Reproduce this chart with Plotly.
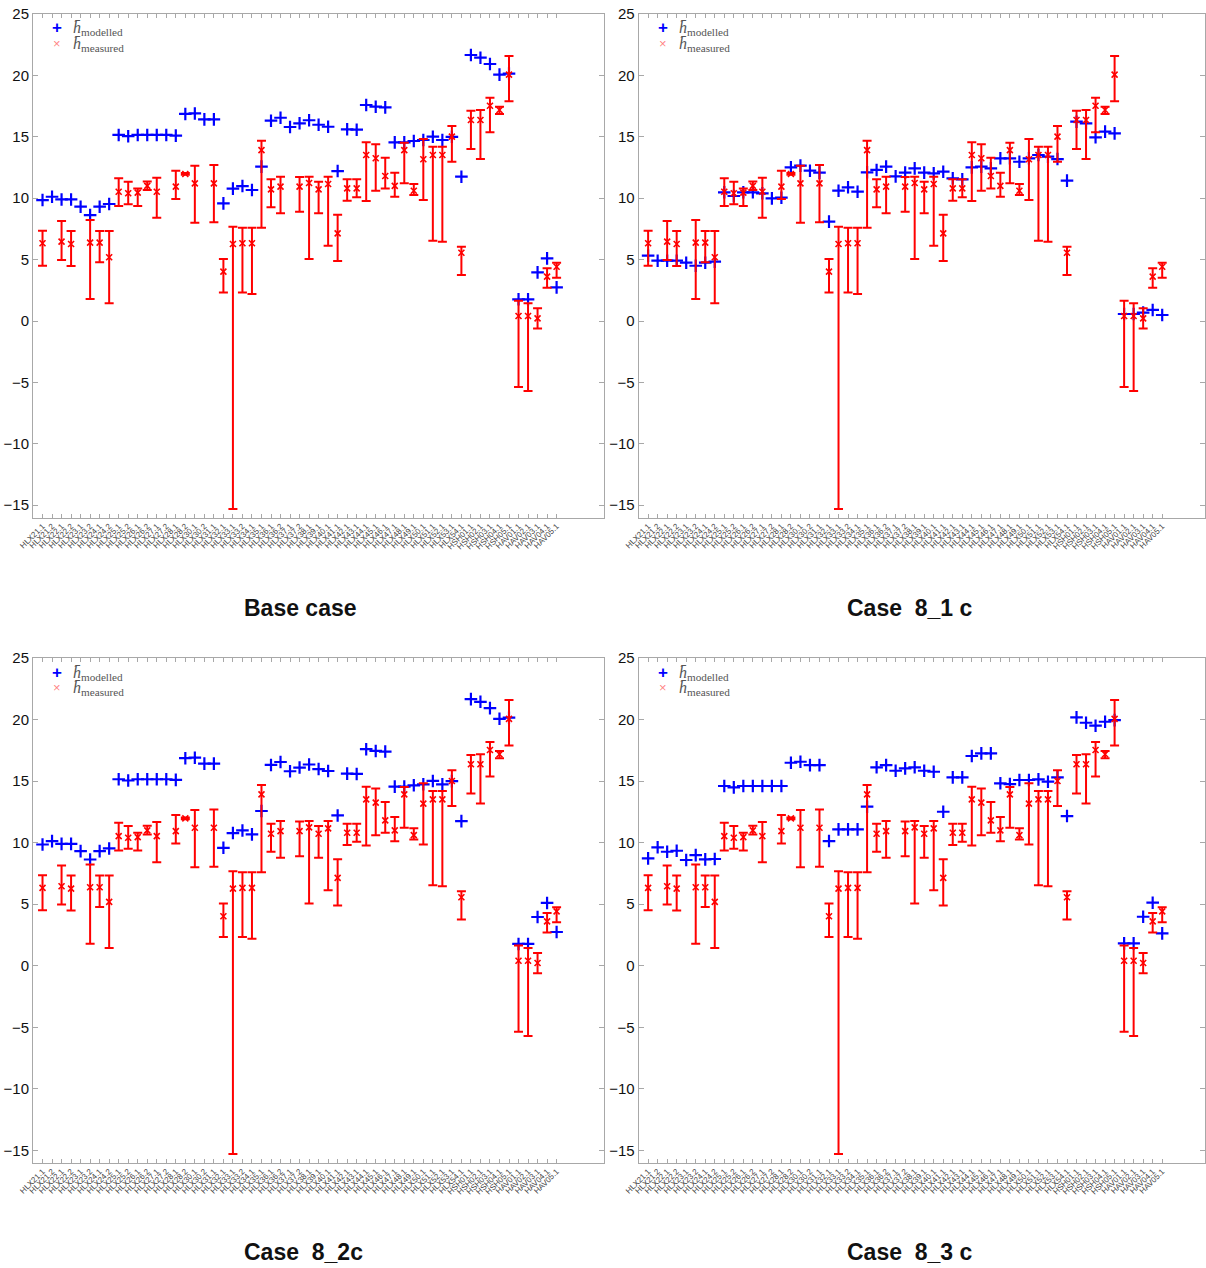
import plotly.graph_objects as go

# Observation points (borehole sections)
stations = [
    "HLX21.1", "HLX21.2", "HLX22.1", "HLX22.2", "HLX23.1", "HLX23.2", "HLX24.1", "HLX24.2",
    "HLX25.1", "HLX25.2", "HLX26.1", "HLX26.2", "HLX27.1", "HLX27.2", "HLX28.1", "HLX28.2",
    "HLX30.1", "HLX30.2", "HLX31.1", "HLX32.1", "HLX33.1", "HLX33.2", "HLX34.1", "HLX35.1",
    "HLX36.1", "HLX36.2", "HLX37.1", "HLX37.2", "HLX38.1", "HLX39.1", "HLX40.1", "HLX41.1",
    "HLX42.1", "HLX43.1", "HLX44.1", "HLX45.1", "HLX46.1", "HLX47.1", "HLX48.1", "HLX49.1",
    "HLX50.1", "HLX51.1", "HLX52.1", "HLX53.1", "HLX54.1", "HSH01.1", "HSH02.1", "HSH03.1",
    "HSH04.1", "HSH05.1", "HAV01.1", "HAV02.1", "HAV03.1", "HAV04.1", "HAV05.1",
]

# Measured heads (m) with lower / upper bounds of the observed range
h_measured = [
    6.33, None, 6.46, 6.27, None, 6.38, 6.38, 5.19, 10.53, 10.40,
    10.45, 11.00, 10.53, None, 10.94, 11.97, 11.21, None, 11.21, 4.02,
    6.27, 6.33, 6.33, 13.92, 10.72, 10.94, None, 10.94, 11.24, 10.72,
    11.16, 7.14, 10.80, 10.80, 13.52, 13.25, 11.81, 11.00, 13.92, 10.61,
    13.17, 13.52, 13.52, 15.01, 5.56, 16.37, 16.37, 17.53, 17.18, 20.06,
    0.41, 0.41, 0.22, 3.61, 4.42,
]
h_measured_high = [
    7.36, None, 8.14, 7.33, None, 8.22, 7.33, 7.33, 11.62, 11.35,
    10.80, 11.37, 11.67, None, 12.24, 12.05, 12.65, None, 12.70, 5.05,
    7.68, 7.60, 7.60, 14.68, 11.54, 11.75, None, 11.72, 11.75, 11.35,
    11.75, 8.66, 11.54, 11.54, 14.55, 14.39, 13.30, 12.08, 14.52, 11.16,
    14.82, 14.20, 14.20, 15.88, 6.05, 17.13, 17.18, 18.18, 17.45, 21.58,
    1.65, 1.44, 1.03, 4.29, 4.75,
]
h_measured_low = [
    4.50, None, 4.97, 4.48, None, 1.79, 4.78, 1.44, 9.36, 9.50,
    9.36, 10.67, 8.41, None, 9.93, 11.90, 8.00, None, 8.05, 2.33,
    -15.30, 2.33, 2.20, 7.60, 9.26, 8.77, None, 8.90, 5.05, 8.77,
    6.13, 4.89, 9.80, 10.07, 9.77, 10.61, 10.80, 10.12, 11.21, 10.26,
    9.85, 6.54, 6.46, 12.97, 3.75, 14.00, 13.19, 15.37, 16.86, 17.89,
    -5.37, -5.70, -0.60, 2.71, 3.53,
]

# Modelled heads (m) for each model case
h_modelled_base = [
    9.85, 10.12, 9.90, 9.90, 9.31, 8.63, 9.31, 9.53, 15.15, 15.05,
    15.15, 15.15, 15.15, 15.15, 15.10, 16.86, 16.90, 16.42, 16.42, 9.58,
    10.78, 10.99, 10.67, 12.57, 16.31, 16.55, 15.80, 16.10, 16.35, 15.98,
    15.82, 12.21, 15.61, 15.58, 17.59, 17.45, 17.40, 14.55, 14.55, 14.66,
    14.74, 15.01, 14.74, 15.00, 11.75, 21.66, 21.44, 20.93, 20.06, 20.15,
    1.77, 1.77, 3.96, 5.10, 2.74,
]
h_modelled_8_1c = [
    5.32, 4.91, 4.91, 4.91, 4.75, 4.50, 4.75, 4.83, 10.48, 10.18,
    10.48, 10.48, 10.40, 9.99, 10.04, 12.51, 12.65, 12.24, 12.08, 8.09,
    10.61, 10.89, 10.53, 12.11, 12.30, 12.57, 11.78, 12.08, 12.43, 12.08,
    12.02, 12.16, 11.62, 11.54, 12.51, 12.57, 12.43, 13.25, 13.25, 12.97,
    13.25, 13.52, 13.38, 13.19, 11.43, 16.23, 16.10, 14.96, 15.42, 15.28,
    0.57, 0.57, 0.68, 0.90, 0.49,
]
h_modelled_8_2c = [
    9.85, 10.12, 9.90, 9.90, 9.31, 8.63, 9.31, 9.53, 15.15, 15.05,
    15.15, 15.15, 15.15, 15.15, 15.10, 16.86, 16.90, 16.42, 16.42, 9.58,
    10.78, 10.99, 10.67, 12.57, 16.31, 16.55, 15.80, 16.10, 16.35, 15.98,
    15.82, 12.21, 15.61, 15.58, 17.59, 17.45, 17.40, 14.55, 14.55, 14.66,
    14.74, 15.01, 14.74, 15.00, 11.75, 21.66, 21.44, 20.93, 20.06, 20.15,
    1.77, 1.77, 3.96, 5.10, 2.74,
]
h_modelled_8_3c = [
    8.72, 9.62, 9.26, 9.34, 8.59, 8.99, 8.64, 8.67, 14.60, 14.49,
    14.60, 14.60, 14.60, 14.60, 14.60, 16.49, 16.57, 16.30, 16.30, 10.13,
    11.08, 11.08, 11.08, 12.92, 16.12, 16.30, 15.84, 16.03, 16.12, 15.84,
    15.76, 12.51, 15.30, 15.30, 17.04, 17.25, 17.25, 14.82, 14.76, 15.09,
    15.09, 15.14, 14.95, 15.30, 12.16, 20.18, 19.74, 19.50, 19.82, 19.95,
    1.82, 1.82, 3.98, 5.12, 2.63,
]

case_titles = ["Base case", "Case\u00a0\u00a08_1 c", "Case\u00a0\u00a08_2c", "Case\u00a0\u00a08_3 c"]
case_models = [h_modelled_base, h_modelled_8_1c, h_modelled_8_2c, h_modelled_8_3c]
y_ticks = [-15, -10, -5, 0, 5, 10, 15, 20, 25]
legend_labels = ["<i>h\u0304</i><sub>modelled</sub>", "<i>h\u0304</i><sub>measured</sub>"]

W, H = 1206, 1268
idx = list(range(1, len(stations) + 1))

# panel frames in pixels: (left, right, top, bottom)
frames = [
    (33, 604, 14, 517.5),
    (638.6, 1204.5, 14, 517.5),
    (33, 604, 658, 1162.7),
    (638.6, 1204.5, 658, 1162.7),
]
# caption centres in pixels
title_pos = [(300, 608), (910, 608), (303, 1252), (910, 1252)]

err_plus = [None if v is None else round(hi - v, 3) for v, hi in zip(h_measured, h_measured_high)]
err_minus = [None if v is None else round(v - lo, 3) for v, lo in zip(h_measured, h_measured_low)]

fig = go.Figure()
layout = dict(
    width=W, height=H, margin=dict(l=0, r=0, t=0, b=0, autoexpand=False),
    paper_bgcolor="white", plot_bgcolor="white", showlegend=False,
)
annotations = []


def px_x(p):
    return p / W


def px_y(p):
    return 1 - p / H


for k, (model, title, (l, r, t, b)) in enumerate(zip(case_models, case_titles, frames)):
    sfx = "" if k == 0 else str(k + 1)
    xa, ya = "x" + sfx, "y" + sfx

    fig.add_trace(go.Scatter(
        x=idx, y=model, mode="markers", xaxis=xa, yaxis=ya, name="modelled",
        marker=dict(symbol="cross-thin", size=9, line=dict(width=2.2, color="#0000ff"), color="#0000ff"),
    ))
    fig.add_trace(go.Scatter(
        x=idx, y=h_measured, mode="markers", xaxis=xa, yaxis=ya, name="measured",
        marker=dict(symbol="x-thin", size=6, line=dict(width=1.6, color="#ff0000"), color="#ff0000"),
        error_y=dict(type="data", symmetric=False, array=err_plus, arrayminus=err_minus,
                     color="#ff0000", thickness=2, width=4.5),
    ))

    axis_common = dict(
        showline=True, linecolor="#a8a8a8", linewidth=1, mirror="allticks", automargin=False,
        ticks="inside", tickcolor="#a8a8a8", showgrid=False, zeroline=False,
    )
    layout["xaxis" + sfx] = dict(
        axis_common, domain=[px_x(l), px_x(r)], anchor=ya,
        range=[0, (r - l) / 9.52], tickmode="array", tickvals=idx, ticktext=stations,
        tickangle=-45, ticklen=4, tickfont=dict(family="Liberation Sans", size=8, color="#444444"),
    )
    layout["yaxis" + sfx] = dict(
        axis_common, domain=[px_y(b), px_y(t)], anchor=xa,
        range=[-16, 25], tickmode="array", tickvals=y_ticks, ticklen=5,
        tickfont=dict(family="Liberation Sans", size=15, color="#111111"),
    )

    # key in the upper-left corner of each panel
    key_glyphs = [("<b>+</b>", "#0000ff", 17), ("×", "rgba(255,0,0,0.5)", 13)]
    for j, (glyph, gcolor, gsize) in enumerate(key_glyphs):
        yc = t + 14 + 15 * j
        annotations.append(dict(
            text=glyph, x=px_x(l + 24), y=px_y(yc), xref="paper", yref="paper",
            xanchor="center", yanchor="middle", showarrow=False,
            font=dict(family="Liberation Sans", size=gsize, color=gcolor),
        ))
        annotations.append(dict(
            text=legend_labels[j], x=px_x(l + 38), y=px_y(yc + 1), xref="paper", yref="paper",
            xanchor="left", yanchor="middle", showarrow=False,
            font=dict(family="Liberation Serif", size=16, color="#555555"),
        ))

    annotations.append(dict(
        text="<b>" + title + "</b>", x=px_x(title_pos[k][0]), y=px_y(title_pos[k][1]),
        xref="paper", yref="paper", xanchor="center", yanchor="middle", showarrow=False,
        font=dict(family="Liberation Sans", size=23, color="#111111"),
    ))

layout["annotations"] = annotations
fig.update_layout(**layout)
fig.write_html("out.html")
